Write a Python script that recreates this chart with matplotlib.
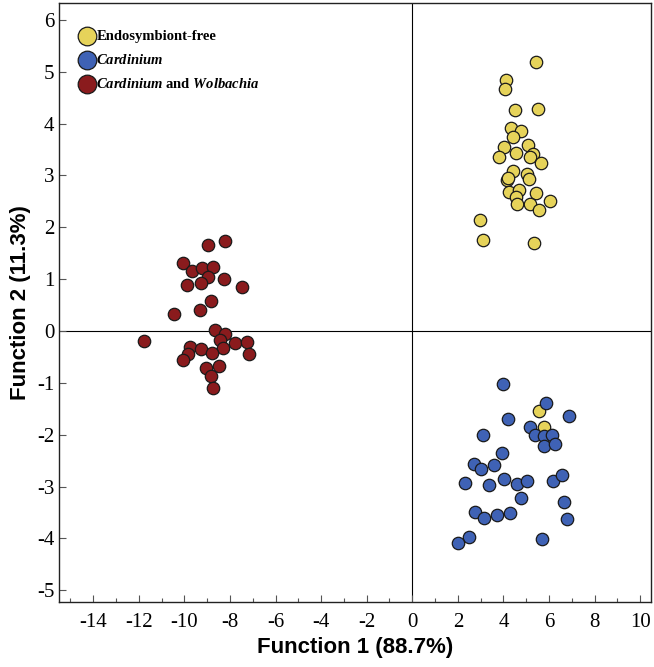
import matplotlib
matplotlib.use("Agg")
import matplotlib.pyplot as plt
from matplotlib.ticker import MultipleLocator

plt.rcParams['font.family'] = ['Liberation Serif', 'DejaVu Serif']
plt.rcParams['axes.unicode_minus'] = False
plt.rcParams['mathtext.fontset'] = 'custom'
plt.rcParams['mathtext.it'] = 'Liberation Serif:italic:bold'
plt.rcParams['mathtext.rm'] = 'Liberation Serif:bold'

# discriminant scores
free_x = [5.43, 4.11, 4.07, 4.51, 5.53, 4.33, 4.76, 4.44, 4.03, 5.08, 3.79, 4.55,
          5.31, 5.17, 5.67, 4.44, 5.05, 5.14, 4.17, 4.22, 4.26, 4.70, 4.55, 5.43,
          6.05, 4.58, 5.17, 5.55, 2.97, 3.09, 5.34, 5.58, 5.78]
free_y = [5.18, 4.84, 4.66, 4.26, 4.29, 3.91, 3.86, 3.75, 3.54, 3.59, 3.35, 3.43,
          3.41, 3.36, 3.25, 3.09, 3.03, 2.94, 2.91, 2.95, 2.69, 2.72, 2.59, 2.66,
          2.51, 2.45, 2.45, 2.33, 2.15, 1.76, 1.69, -1.54, -1.85]

card_x = [4.00, 5.86, 6.87, 4.19, 5.17, 3.12, 5.39, 5.78, 6.13, 5.78, 6.27, 3.94,
          2.71, 3.03, 3.59, 2.31, 3.38, 4.03, 4.58, 5.05, 6.19, 6.56, 4.76, 6.68,
          2.77, 3.15, 3.73, 4.29, 6.81, 2.50, 2.01, 5.68]
card_y = [-1.02, -1.38, -1.64, -1.70, -1.86, -2.00, -2.01, -2.03, -2.01, -2.21, -2.18, -2.35,
          -2.57, -2.66, -2.59, -2.93, -2.98, -2.86, -2.95, -2.89, -2.89, -2.77, -3.22, -3.29,
          -3.49, -3.61, -3.54, -3.52, -3.63, -3.97, -4.08, -4.02]

both_x = [-8.97, -8.21, -10.06, -9.65, -9.21, -8.74, -8.96, -8.27, -9.88, -9.29, -7.48,
          -8.84, -9.33, -10.46, -11.78, -8.65, -8.21, -8.45, -7.76, -7.27, -7.17, -9.73,
          -9.29, -8.30, -8.77, -9.84, -10.08, -9.06, -8.48, -8.81, -8.75]
both_y = [1.66, 1.73, 1.32, 1.16, 1.22, 1.23, 1.05, 1.01, 0.89, 0.92, 0.84,
          0.58, 0.41, 0.33, -0.20, 0.02, -0.06, -0.17, -0.24, -0.21, -0.44, -0.30,
          -0.35, -0.32, -0.42, -0.44, -0.56, -0.71, -0.68, -0.86, -1.09]

groups = [
    ("Endosymbiont-free", free_x, free_y, "#E6D35A"),
    (r"$\mathit{Cardinium}$", card_x, card_y, "#3F62B5"),
    (r"$\mathit{Cardinium}$ and $\mathit{Wolbachia}$", both_x, both_y, "#8A1B1D"),
]

fig = plt.figure(figsize=(6.54, 6.67), dpi=100)
ax = fig.add_axes([0.0902, 0.098, 0.905, 0.897])

ax.axhline(0, color="black", lw=0.8, zorder=1)
ax.axvline(0, color="black", lw=0.8, zorder=1)

for label, xs, ys, col in groups:
    ax.scatter(xs, ys, s=80, c=col, edgecolors="#1a1a1a", linewidths=0.9,
               label=label, zorder=3)

ax.set_xlim(-15.5, 10.47)
ax.set_ylim(-5.22, 6.32)
ax.xaxis.set_major_locator(MultipleLocator(2))
ax.xaxis.set_minor_locator(MultipleLocator(1))
ax.yaxis.set_major_locator(MultipleLocator(1))
ax.tick_params(axis="both", which="both", direction="in", color="#555555",
               top=False, right=False, labelsize=15,
               labelfontfamily="Liberation Serif")
ax.tick_params(axis="both", which="major", length=5, width=0.8)
ax.tick_params(axis="x", which="minor", length=3, width=0.8)
ax.tick_params(axis="x", pad=8)

for sp in ax.spines.values():
    sp.set_linewidth(1.0)
    sp.set_color("#222222")

ax.set_xlabel("Function 1 (88.7%)", fontsize=16, fontweight="bold",
              fontfamily="Liberation Sans", labelpad=4)
ax.set_ylabel("Function 2 (11.3%)", fontsize=16, fontweight="bold",
              fontfamily="Liberation Sans", labelpad=4)

ax.legend(loc="upper left", bbox_to_anchor=(0.01, 0.978), frameon=False,
          markerscale=1.5, handletextpad=0.05, labelspacing=0.7,
          borderaxespad=0.5, handlelength=1.2,
          prop={"family": "Liberation Serif", "weight": "bold", "size": 10.5})

fig.savefig("out.png", dpi=100)
